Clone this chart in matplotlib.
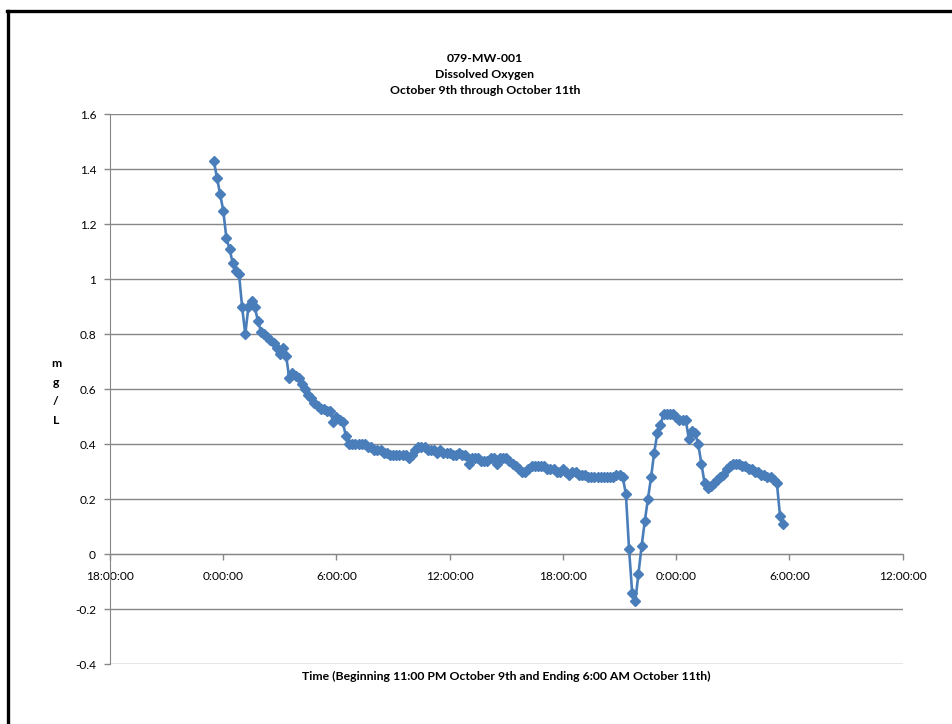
import matplotlib
matplotlib.use("Agg")
import matplotlib.pyplot as plt
import matplotlib.dates as mdates
from matplotlib.lines import Line2D
from matplotlib.ticker import FuncFormatter
import pandas as pd

# Dissolved oxygen readings (mg/L), logged every 10 minutes
start_time = "2012-10-09 23:30"
interval = "10min"
do_mg_l = [
    1.43, 1.37, 1.31, 1.25, 1.15, 1.11, 1.06, 1.03, 1.02, 0.90, 0.80, 0.90,
    0.92, 0.90, 0.85, 0.81, 0.80,
    0.79, 0.78, 0.77, 0.75, 0.73, 0.75, 0.72,
    0.64, 0.66, 0.65, 0.64, 0.62, 0.60, 0.58, 0.57, 0.55, 0.54, 0.53, 0.53,
    0.52, 0.52, 0.48, 0.50, 0.49, 0.48, 0.43, 0.40,
    0.40, 0.40, 0.40, 0.40, 0.40,
    0.39, 0.39, 0.38, 0.38, 0.38, 0.37, 0.37, 0.36, 0.36, 0.36, 0.36, 0.36,
    0.36, 0.35, 0.36, 0.38, 0.39, 0.39, 0.39, 0.38, 0.38, 0.38, 0.37,
    0.38, 0.37, 0.37, 0.37, 0.36, 0.36, 0.37, 0.36, 0.36, 0.33,
    0.35, 0.35, 0.35, 0.34, 0.34, 0.34, 0.35, 0.35, 0.33, 0.35,
    0.35, 0.35, 0.34, 0.33, 0.32, 0.31, 0.30, 0.30, 0.31, 0.32,
    0.32, 0.32, 0.32, 0.32, 0.31, 0.31, 0.31, 0.30, 0.30, 0.31,
    0.30, 0.29, 0.30, 0.30, 0.29, 0.29, 0.29, 0.28, 0.28, 0.28,
    0.28, 0.28, 0.28, 0.28, 0.28, 0.28, 0.29, 0.29, 0.28,
    0.22, 0.02, -0.14, -0.17, -0.07, 0.03, 0.12, 0.20, 0.28, 0.37, 0.44, 0.47,
    0.51, 0.51, 0.51, 0.51,
    0.50, 0.49, 0.49, 0.49, 0.42, 0.45, 0.44, 0.40, 0.33, 0.26, 0.24, 0.25,
    0.26, 0.27, 0.28, 0.29, 0.31, 0.32, 0.33, 0.33, 0.33, 0.32, 0.32, 0.31,
    0.31, 0.30, 0.30, 0.29, 0.29, 0.28, 0.28, 0.27, 0.26, 0.14, 0.11,
]
times = pd.date_range(start_time, periods=len(do_mg_l), freq=interval)

x_start = pd.Timestamp("2012-10-09 18:00")
x_end = pd.Timestamp("2012-10-11 12:00")
y_ticks = [-0.4, -0.2, 0, 0.2, 0.4, 0.6, 0.8, 1, 1.2, 1.4, 1.6]

title_lines = ["079-MW-001", "Dissolved Oxygen", "October 9th through October 11th"]
x_title = "Time (Beginning 11:00 PM October 9th and Ending 6:00 AM October 11th)"
y_title = "m\ng\n/\nL"

plt.rcParams["font.family"] = ["Lato", "DejaVu Sans"]

W, H = 953, 724
fig = plt.figure(figsize=(W / 100, H / 100), dpi=100)
fig.patch.set_facecolor("white")

left, right, top, bottom = 110, 902.7, 114.3, 664.3
ax = fig.add_axes([left / W, 1 - bottom / H, (right - left) / W, (bottom - top) / H])

line_color = "#4A7EBB"
ax.plot(times, do_mg_l, color=line_color, lw=1.9, marker="D", markersize=5.5,
        markeredgecolor=line_color, markerfacecolor=line_color, zorder=3)

ax.set_xlim(x_start, x_end)
ax.set_ylim(-0.4, 1.6)
ax.set_yticks(y_ticks)
ax.yaxis.set_major_formatter(FuncFormatter(lambda v, p: f"{v:g}"))

ax.xaxis.set_major_locator(mdates.HourLocator(byhour=[0, 6, 12, 18]))
ax.xaxis.set_major_formatter(FuncFormatter(
    lambda v, p: f"{mdates.num2date(v).hour}:00:00"))

grid_color = "#878787"
ax.yaxis.grid(True, color=grid_color, lw=1.0)
ax.set_axisbelow(True)

for s in ("top", "right"):
    ax.spines[s].set_visible(False)
ax.spines["left"].set_color(grid_color)
ax.spines["bottom"].set_color(grid_color)
ax.spines["bottom"].set_position(("data", 0))
ax.tick_params(axis="both", colors=grid_color, labelcolor="black",
               labelsize=8.6, length=4, width=1)
ax.tick_params(axis="x", pad=8)
ax.tick_params(axis="y", pad=6)

# Chart title is centred on the whole chart area, axis title on the plot area
title_x = 485 / W
for i, t in enumerate(title_lines):
    fig.text(title_x, 1 - (58 + 16 * i) / H, t, ha="center", va="center",
             fontsize=8.8, fontweight="bold")
fig.text((left + right) / 2 / W, 1 - 676 / H, x_title, ha="center", va="center",
         fontsize=8.8, fontweight="bold")
fig.text(56 / W, 1 - 392 / H, y_title, ha="center", va="center",
         fontsize=8.8, fontweight="bold", linespacing=1.9)

# Outer chart frame (left and top edges)
fig.add_artist(Line2D([8.5 / W, 8.5 / W], [0, 1 - 10.5 / H], color="black",
                      lw=2.4, transform=fig.transFigure))
fig.add_artist(Line2D([7.3 / W, 1], [1 - 10.5 / H, 1 - 10.5 / H], color="black",
                      lw=2.4, transform=fig.transFigure))

fig.savefig("out.png", dpi=100, facecolor="white")
